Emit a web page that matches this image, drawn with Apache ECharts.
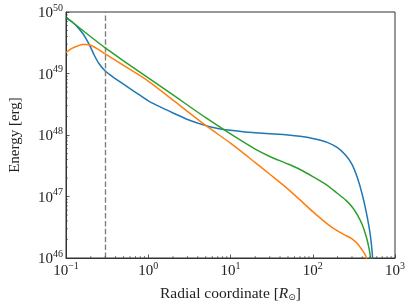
<!DOCTYPE html>
<html>
<head>
<meta charset="utf-8">
<script src="https://cdn.jsdelivr.net/npm/echarts@6/dist/echarts.min.js"></script>
<style>html,body{margin:0;padding:0;background:#fff;}#c{width:411px;height:307px;}</style>
</head>
<body>
<div id="c"></div>
<script>
// Data (x: radial coordinate [R_sun], y: energy [erg])
var blueX = [0.1, 0.12, 0.14, 0.16, 0.18, 0.2, 0.22, 0.25, 0.3, 0.35, 0.4, 0.5, 0.6, 0.8, 1, 1.5, 2, 3, 5, 7, 10, 15, 20, 30, 50, 70, 100, 150, 200, 250, 300, 350, 400, 450, 500, 530, 550];
var blueY = [7.94e49, 6.81e49, 5.57e49, 4.48e49, 3.47e49, 2.64e49, 2.00e49, 1.47e49, 1.10e49, 9.30e48, 8.18e48, 6.69e48, 5.67e48, 4.40e48, 3.60e48, 2.73e48, 2.28e48, 1.79e48, 1.42e48, 1.28e48, 1.19e48, 1.12e48, 1.09e48, 1.05e48, 1.00e48, 9.54e47, 8.79e47, 7.60e47, 6.22e47, 4.73e47, 3.34e47, 2.00e47, 1.08e47, 5.37e46, 2.40e46, 1.16e46, 5e45];
var orangeX = [0.1, 0.12, 0.14, 0.16, 0.18, 0.2, 0.25, 0.3, 0.5, 1, 2, 5, 10, 20, 30, 50, 70, 100, 150, 200, 250, 300, 350, 400, 430, 450, 460];
var orangeY = [2.21e49, 2.59e49, 2.83e49, 2.97e49, 2.97e49, 2.88e49, 2.45e49, 2.08e49, 1.36e49, 7.52e48, 3.69e48, 1.43e48, 7.36e47, 3.56e47, 2.30e47, 1.32e47, 8.80e46, 5.68e46, 3.60e46, 2.75e46, 2.34e46, 2.05e46, 1.70e46, 1.34e46, 1.16e46, 1.0e46, 5e45];
var greenX = [0.1, 0.2, 0.3, 0.5, 1, 2, 5, 10, 20, 30, 50, 70, 100, 150, 200, 250, 300, 350, 400, 450, 480, 500, 510];
var greenY = [8.24e49, 3.96e49, 2.61e49, 1.61e49, 8.49e48, 4.48e48, 1.91e48, 1.04e48, 5.89e47, 4.48e47, 3.38e47, 2.75e47, 2.11e47, 1.52e47, 1.12e47, 8.80e46, 6.81e46, 4.99e46, 3.47e46, 2.15e46, 1.50e46, 1.08e46, 5e45];
var dashedX = 0.3;
var xMinorTicks = [0.2,0.3,0.4,0.5,0.6,0.7,0.8,0.9,2,3,4,5,6,7,8,9,20,30,40,50,60,70,80,90,200,300,400,500,600,700,800,900];
var yMinorTicks = [2e46,3e46,4e46,5e46,6e46,7e46,8e46,9e46,2e47,3e47,4e47,5e47,6e47,7e47,8e47,9e47,2e48,3e48,4e48,5e48,6e48,7e48,8e48,9e48,2e49,3e49,4e49,5e49,6e49,7e49,8e49,9e49];
var xMin = 0.1, xMax = 1000, yMin = 1e46, yMax = 1e50;

function zip(a, b) { return a.map(function (v, i) { return [v, b[i]]; }); }
var FONT = 'Liberation Serif';
function powLabel(v) {
  var e = Math.round(Math.log10(v));
  var s = e < 0 ? '\u2212' + (-e) : String(e);
  return '{b|10}{s|' + s + '}';
}
var richLab = {
  b: { fontFamily: FONT, fontSize: 15, color: '#222', lineHeight: 18, verticalAlign: 'bottom' },
  s: { fontFamily: FONT, fontSize: 10, color: '#222', lineHeight: 18, verticalAlign: 'top' }
};
var axisCol = '#333';
function lineSeries(data, color, z) {
  return { type: 'line', data: data, smooth: 0.25, showSymbol: false, clip: true,
    lineStyle: { color: color, width: 1.5 }, z: z };
}

var chart = echarts.init(document.getElementById('c'), null, { renderer: 'canvas' });
var green = lineSeries(zip(greenX, greenY), '#2ca02c', 5);
green.markLine = { silent: true, symbol: ['none', 'none'], label: { show: false },
  lineStyle: { color: '#808080', type: [5.5, 2.4], width: 1.4 }, data: [{ xAxis: dashedX }] };
chart.setOption({
  animation: false,
  backgroundColor: '#fff',
  grid: { left: 54, right: 16, top: 12, bottom: 43, show: true, borderColor: axisCol, borderWidth: 1, backgroundColor: 'transparent' },
  xAxis: {
    type: 'log', logBase: 10, min: xMin, max: xMax,
    name: '{t|Radial coordinate [}{i|R}{u|\u2299}{t|]}',
    nameLocation: 'middle', nameGap: 28,
    nameTextStyle: { rich: {
      t: { fontFamily: FONT, fontSize: 15.5, color: '#222' },
      i: { fontFamily: FONT, fontSize: 15.5, fontStyle: 'italic', color: '#222' },
      u: { fontFamily: 'DejaVu Sans', fontSize: 9, color: '#222', verticalAlign: 'bottom', padding: [6, 0, 0, 0] }
    } },
    axisLine: { lineStyle: { color: axisCol, width: 1 } },
    axisTick: { inside: true, length: 3.5, lineStyle: { color: axisCol, width: 0.8 } },
    axisLabel: { formatter: powLabel, rich: richLab, margin: 3 },
    splitLine: { show: false }
  },
  yAxis: {
    type: 'log', logBase: 10, min: yMin, max: yMax,
    name: 'Energy [erg]', nameLocation: 'middle', nameGap: 43, nameRotate: 90,
    nameTextStyle: { fontFamily: FONT, fontSize: 15, color: '#222' },
    axisLine: { lineStyle: { color: axisCol, width: 1 } },
    axisTick: { inside: true, length: 3.5, lineStyle: { color: axisCol, width: 0.8 } },
    axisLabel: { formatter: powLabel, rich: richLab, margin: 3 },
    splitLine: { show: false }
  },
  series: [
    lineSeries(zip(blueX, blueY), '#1f77b4', 3),
    lineSeries(zip(orangeX, orangeY), '#ff7f0e', 4),
    green,
    { type: 'custom', silent: true, clip: false, z: 6,
      data: xMinorTicks.map(function (v) { return [v, yMin]; }),
      renderItem: function (params, api) {
        var p = api.coord([api.value(0), yMin]);
        return { type: 'line', shape: { x1: p[0], y1: p[1], x2: p[0], y2: p[1] - 2 }, style: { stroke: axisCol, lineWidth: 0.6 } };
      } },
    { type: 'custom', silent: true, clip: false, z: 6,
      data: yMinorTicks.map(function (v) { return [xMin, v]; }),
      renderItem: function (params, api) {
        var p = api.coord([xMin, api.value(1)]);
        return { type: 'line', shape: { x1: p[0], y1: p[1], x2: p[0] + 2, y2: p[1] }, style: { stroke: axisCol, lineWidth: 0.6 } };
      } }
  ]
});
</script>
</body>
</html>
